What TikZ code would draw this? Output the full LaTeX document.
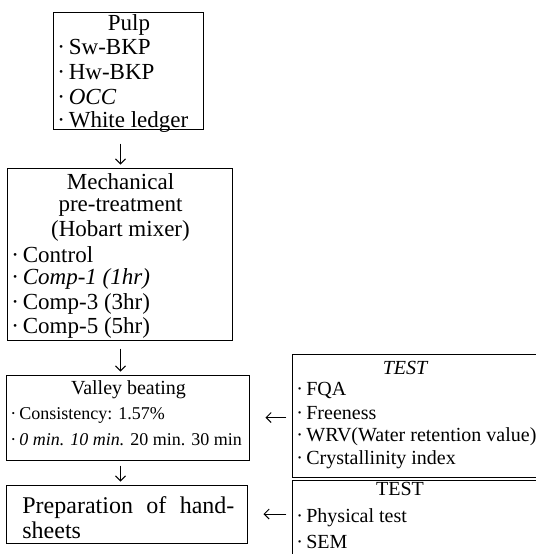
\documentclass[tikz,border=0pt]{standalone}
\usepackage{fontspec}
\setmainfont{Liberation Serif}
\usetikzlibrary{arrows.meta}
\tikzset{
  pm/box/.style={
    draw=black,
    line width=0.5pt,
    fill=white,
    inner sep=0pt
  },
  pm/title/.style={inner sep=0pt, font=\fontsize{11.5}{12.5}\selectfont},
  pm/item/.style={anchor=west, inner sep=0pt, font=\fontsize{11.5}{12.5}\selectfont},
  pm/small/.style={anchor=west, inner sep=0pt, font=\fontsize{10}{12}\selectfont},
  pm/arrow/.style={-{Straight Barb[length=2.5pt,width=5pt]}, line width=0.5pt}
}

\begin{document}
\begin{tikzpicture}[x=0.5pt,y=-0.5pt]
  \useasboundingbox (0,0) rectangle (536,554);
  \clip (0,0) rectangle (536,554);
  % left column
  \node[pm/box,minimum width=75pt,minimum height=58.5pt] (pulp) at (129,70.5) {};
  \node[pm/title] (pulp-t) at (129,25) {Pulp};
  \node[pm/item] (pulp-1) at (57,47) {·\,Sw-BKP};
  \node[pm/item] (pulp-2) at (57,72) {·\,Hw-BKP};
  \node[pm/item] (pulp-3) at (57,97) {·\,\textit{OCC}};
  \node[pm/item] (pulp-4) at (57,122) {·\,White ledger};
  \node[pm/box,minimum width=112.5pt,minimum height=86pt] (mech) at (120.5,254) {};
  \node[pm/title] (mech-t1) at (120.5,182) {Mechanical};
  \node[pm/title] (mech-t2) at (120.5,207) {pre-treatment};
  \node[pm/title] (mech-t3) at (120.5,231) {(Hobart mixer)};
  \node[pm/item] (mech-1) at (11,255) {·\,Control};
  \node[pm/item] (mech-2) at (11,279) {·\,\textit{Comp-1 (1hr)}};
  \node[pm/item] (mech-3) at (11,304) {·\,Comp-3 (3hr)};
  \node[pm/item] (mech-4) at (11,328) {·\,Comp-5 (5hr)};
  \node[pm/box,minimum width=121.5pt,minimum height=42.5pt] (valley) at (128.5,417.5) {};
  \node[pm/title,font=\fontsize{10}{12}\selectfont] (valley-t) at (128.5,390) {Valley beating};
  \node[pm/small,font=\fontsize{9}{12}\selectfont] (valley-1) at (10,415) {·\,Consistency: 1.57\%};
  \node[pm/small,font=\fontsize{9}{12}\selectfont] (valley-2) at (10,440) {·\,\textit{0 min. 10 min.} 20 min. 30 min};
  \node[pm/box,minimum width=120.5pt,minimum height=29pt] (prep) at (127.5,514) {};
  \node[anchor=north west,inner sep=0pt,text width=106pt,align=justify,
    font=\fontsize{12}{12.5}\selectfont] (prep-t) at (22,496)
    {Preparation of hand- sheets};
  % tests
  \node[pm/box,minimum width=133.5pt,minimum height=61.5pt] (test1) at (426.5,415.5) {};
  \node[pm/title,font=\fontsize{10}{12}\selectfont\itshape] (test1-t) at (405,368) {TEST};
  \node[pm/small] (test1-1) at (296,390) {·\,FQA};
  \node[pm/small] (test1-2) at (296,413) {·\,Freeness};
  \node[pm/small] (test1-3) at (296,437) {·\,WRV(Water retention value)};
  \node[pm/small] (test1-4) at (296,460) {·\,Crystallinity index};
  \node[pm/box,minimum width=133.5pt,minimum height=60pt] (test2) at (426.5,540) {};
  \node[pm/title,font=\fontsize{10}{12}\selectfont] (test2-t) at (400,489) {TEST};
  \node[pm/small] (test2-1) at (296,518) {·\,Physical test};
  \node[pm/small] (test2-2) at (296,542) {·\,SEM};
  % connectors
  \draw[pm/arrow,shorten <=7pt,shorten >=1.5pt] (pulp.south -| mech.north) -- (mech.north);
  \draw[pm/arrow,shorten <=4pt,shorten >=1.5pt] (mech.south) -- (mech.south |- valley.north);
  \draw[pm/arrow,shorten <=2.5pt,shorten >=1.5pt] (valley.south -| mech.south) -- (prep.north -| mech.south);
  \draw[pm/arrow,shorten <=3pt,shorten >=7.5pt] (test1.west |- valley.east) -- (valley.east);
  \draw[pm/arrow,shorten <=3pt,shorten >=7.5pt] (test2.west |- prep.east) -- (prep.east);
\end{tikzpicture}
\end{document}
